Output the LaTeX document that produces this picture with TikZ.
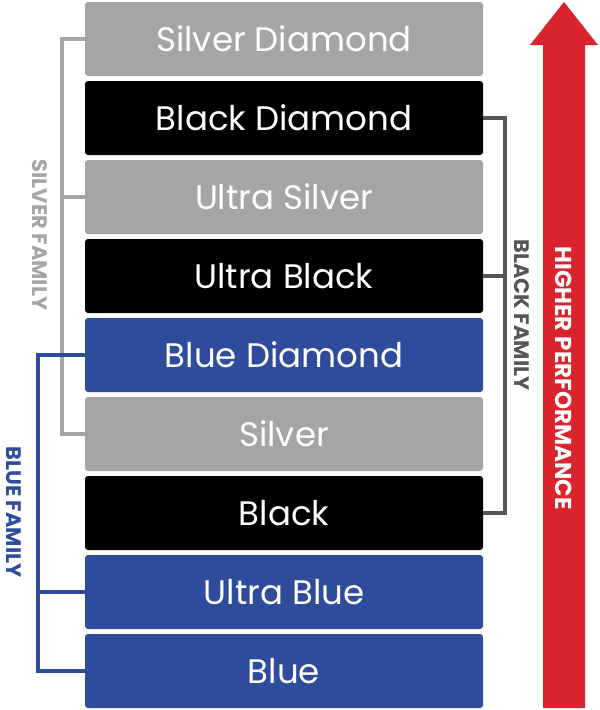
\documentclass[tikz,border=0pt]{standalone}
\usepackage{fontspec}
\setmainfont{Poppins}
\definecolor{silv}{HTML}{A5A5A5}
\definecolor{blu}{HTML}{2E4B9C}
\definecolor{blk}{HTML}{000000}
\definecolor{dgr}{HTML}{555555}
\definecolor{rd}{HTML}{D9232D}
\begin{document}
\begin{tikzpicture}[x=1pt,y=-1pt,
  tier/.style={minimum width=398pt,minimum height=74pt,rounded corners=3pt,text=white,font=\fontsize{34}{36}\selectfont,inner sep=0pt},
  brk/.style={line width=4pt},
  lab/.style={font=\bfseries\fontsize{21}{23}\selectfont,rotate=-90}]
\useasboundingbox (0,0) rectangle (600,710);
\foreach \n/\t/\c [count=\i from 0] in {a/Silver Diamond/silv,b/Black Diamond/blk,c/Ultra Silver/silv,d/Ultra Black/blk,e/Blue Diamond/blu,f/Silver/silv,g/Black/blk,h/Ultra Blue/blu,k/Blue/blu}
  \node[tier,fill=\c] (\n) at (284,{39+79*\i}) {\t};
% silver
\draw[brk,silv] (a.west) -- ++(-23,0) coordinate (s1) -- (s1|-f.west) -- (f.west);
\draw[brk,silv] (c.west) -- (c.west-|s1);
\node[lab,text=silv] (sl) at (40,235) {SILVER FAMILY};
% blue
\draw[brk,blu] (e.west) -- ++(-47,0) coordinate (b1) -- (b1|-k.west) -- (k.west);
\draw[brk,blu] (h.west) -- (h.west-|b1);
\node[lab,text=blu] (bl) at (14,512) {BLUE FAMILY};
% black
\draw[brk,dgr] (b.east) -- ++(22,0) coordinate (k1) -- (k1|-g.east) -- (g.east);
\draw[brk,dgr] (d.east) -- (d.east-|k1);
\node[lab,text=dgr] (kl) at (522,315) {BLACK FAMILY};
% arrow
\fill[rd] (543,708) -- (543,45) -- (530,45) -- (564,2) -- (598,45) -- (585,45) -- (585,708) -- cycle;
\node[lab,text=white,font=\bfseries\fontsize{23}{25}\selectfont] (hp) at (564,378) {HIGHER PERFORMANCE};
\end{tikzpicture}
\end{document}
